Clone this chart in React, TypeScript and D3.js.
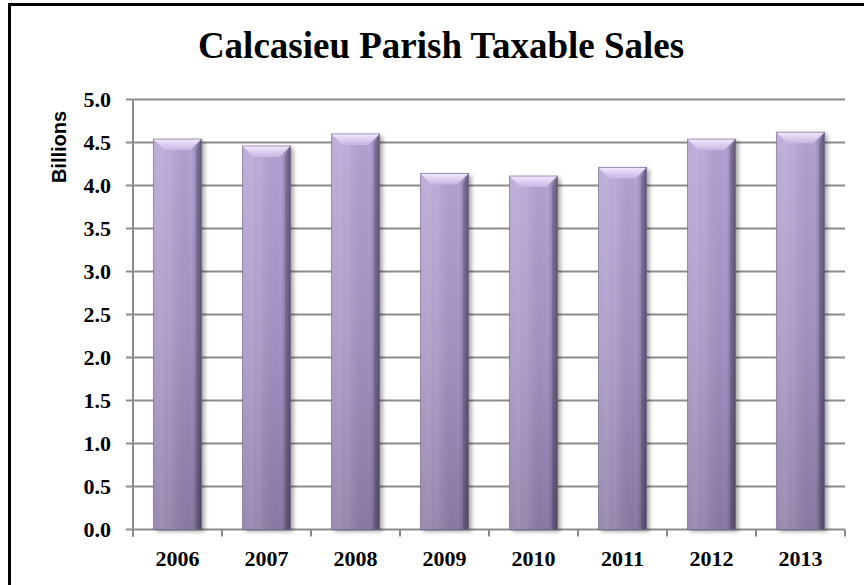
import React from "react";
import * as d3 from "d3";

const years = ["2006", "2007", "2008", "2009", "2010", "2011", "2012", "2013"];
const sales = [4.54, 4.46, 4.6, 4.14, 4.11, 4.21, 4.54, 4.62];
const yTicks = [0, 0.5, 1, 1.5, 2, 2.5, 3, 3.5, 4, 4.5, 5];
const title = "Calcasieu Parish Taxable Sales";
const yTitle = "Billions";

const W = 864;
const H = 585;
const M = { left: 133, right: 845, top: 99.5, bottom: 529.5 };

export default function App() {
  const x = d3.scaleBand<string>().domain(years).range([M.left, M.right]).paddingInner(0.46).paddingOuter(0.23);
  const y = d3.scaleLinear().domain([0, 5]).range([M.bottom, M.top]);
  const bw = x.bandwidth();
  const step = x.step();
  const boundaries = d3.range(years.length + 1).map((i) => M.left + (i * (M.right - M.left)) / years.length);
  const serif = "'Liberation Serif', 'Times New Roman', serif";
  const sans = "'Liberation Sans', Arial, sans-serif";
  const b = 11;

  return (
    <svg width={W} height={H} style={{ position: "absolute", left: 0, top: 0 }}>
      <defs>
        <linearGradient id="body" x1="0" y1="0" x2="0" y2="1">
          <stop offset="0" stopColor="#b3a3d3" />
          <stop offset="0.5" stopColor="#a493c2" />
          <stop offset="1" stopColor="#8a7aa4" />
        </linearGradient>
        <linearGradient id="sheen" x1="0" y1="0" x2="1" y2="0">
          <stop offset="0" stopColor="#ffffff" stopOpacity="0.05" />
          <stop offset="0.35" stopColor="#ffffff" stopOpacity="0.12" />
          <stop offset="0.8" stopColor="#000000" stopOpacity="0.0" />
          <stop offset="0.92" stopColor="#000000" stopOpacity="0.2" />
          <stop offset="1" stopColor="#000000" stopOpacity="0.4" />
        </linearGradient>
        <linearGradient id="topbev" x1="0" y1="0" x2="0" y2="1">
          <stop offset="0" stopColor="#f2e8ff" />
          <stop offset="1" stopColor="#c7b6e2" />
        </linearGradient>
        <filter id="shadow" x="-20%" y="-5%" width="150%" height="115%">
          <feDropShadow dx="3" dy="2" stdDeviation="2" floodColor="#000" floodOpacity="0.35" />
        </filter>
      </defs>
      <rect x={0} y={0} width={W} height={H} fill="#fff" />
      <rect x={9.5} y={4.5} width={W + 20} height={H + 20} fill="none" stroke="#000" strokeWidth={3} />

      <text x={441} y={58} textAnchor="middle" fontFamily={serif} fontWeight="bold" fontSize={37} fill="#000">
        {title}
      </text>

      {/* gridlines & y ticks */}
      {yTicks.map((t) => (
        <g key={t}>
          <line x1={M.left - 7} x2={M.right} y1={y(t)} y2={y(t)} stroke="#8c8c8c" strokeWidth={2} />
          <text x={111} y={y(t) + 7.5} textAnchor="end" fontFamily={serif} fontWeight="bold" fontSize={22} fill="#000">
            {t.toFixed(1)}
          </text>
        </g>
      ))}
      <line x1={M.left} x2={M.left} y1={M.top} y2={M.bottom + 7} stroke="#8c8c8c" strokeWidth={2} />
      {boundaries.map((bx, i) => (
        <line key={i} x1={bx} x2={bx} y1={M.bottom} y2={M.bottom + 7} stroke="#8c8c8c" strokeWidth={2} />
      ))}

      <text
        transform={`translate(66,${147}) rotate(-90)`}
        textAnchor="middle"
        fontFamily={sans}
        fontWeight="bold"
        fontSize={20}
        fill="#000"
      >
        {yTitle}
      </text>

      {/* bars */}
      {years.map((yr, i) => {
        const x0 = x(yr)!;
        const y0 = y(sales[i]);
        const h = M.bottom - y0;
        return (
          <g key={yr}>
            <rect x={x0} y={y0} width={bw} height={h} fill="url(#body)" filter="url(#shadow)" />
            <rect x={x0} y={y0} width={bw} height={h} fill="url(#sheen)" />
            <polygon
              points={`${x0},${y0} ${x0 + bw},${y0} ${x0 + bw - b},${y0 + b} ${x0 + b},${y0 + b}`}
              fill="url(#topbev)"
            />
            <polygon
              points={`${x0},${y0} ${x0 + b},${y0 + b} ${x0 + b},${M.bottom} ${x0},${M.bottom}`}
              fill="#ffffff"
              opacity={0.08}
            />
            <polygon
              points={`${x0 + bw},${y0} ${x0 + bw - b * 0.5},${y0 + b} ${x0 + bw - b * 0.5},${M.bottom} ${x0 + bw},${M.bottom}`}
              fill="#3d3350"
              opacity={0.25}
            />
            <rect x={x0} y={y0} width={bw} height={h} fill="none" stroke="#6e6186" strokeWidth={1} strokeOpacity={0.6} />
          </g>
        );
      })}

      {years.map((yr) => (
        <text
          key={yr}
          x={x(yr)! + bw / 2}
          y={566}
          textAnchor="middle"
          fontFamily={serif}
          fontWeight="bold"
          fontSize={22}
          fill="#000"
        >
          {yr}
        </text>
      ))}
    </svg>
  );
}
